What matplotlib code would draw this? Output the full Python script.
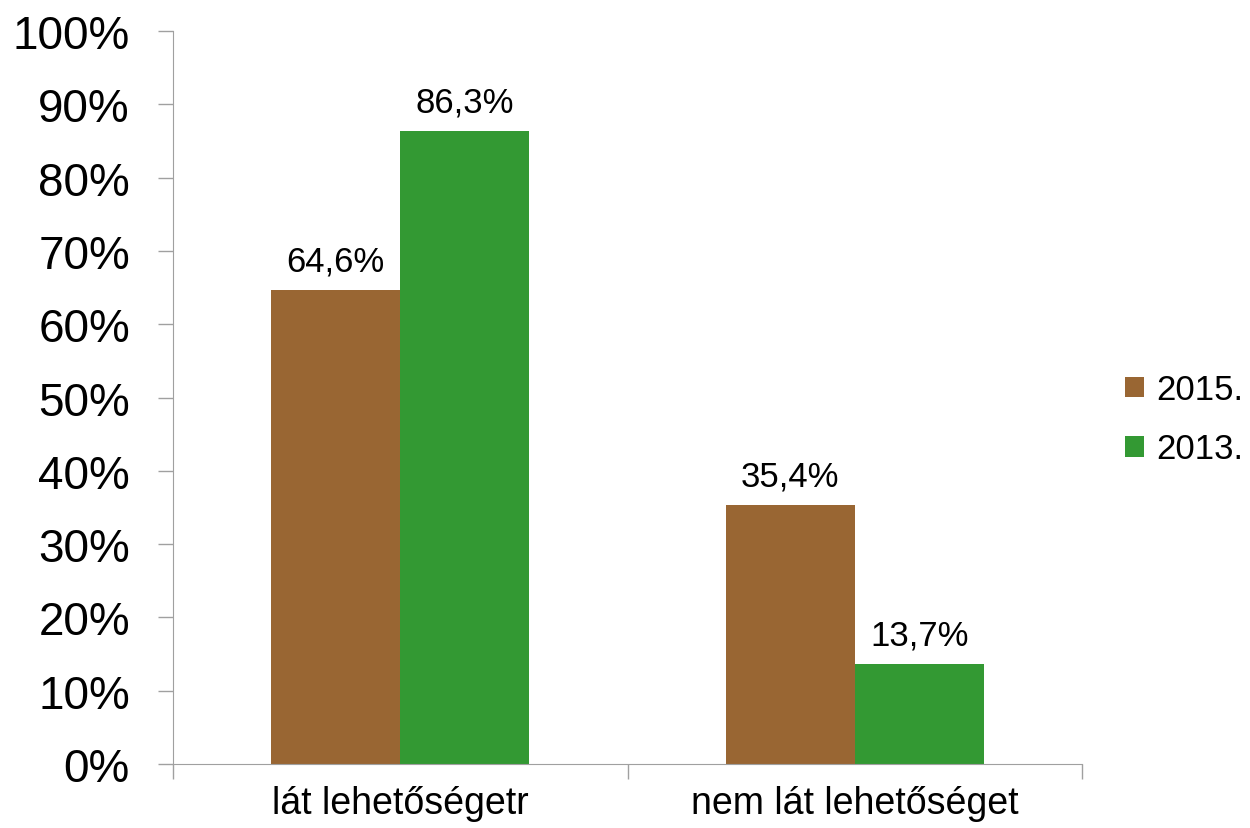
import matplotlib.pyplot as plt
import numpy as np

plt.rcParams['font.family'] = ['Liberation Sans', 'DejaVu Sans']

categories = ['lát lehetőségetr', 'nem lát lehetőséget']
series_names = ['2015.', '2013.']
v2015 = [64.6, 35.4]
v2013 = [86.3, 13.7]
labels2015 = ['64,6%', '35,4%']
labels2013 = ['86,3%', '13,7%']
colors = ['#996633', '#339933']

fig = plt.figure(figsize=(12.5, 8.29), dpi=100)
ax = fig.add_axes([0.1384, 0.0772, 0.7272, 0.8842])

x = np.arange(len(categories))
w = 0.284
b1 = ax.bar(x - w / 2, v2015, w, color=colors[0], label=series_names[0])
b2 = ax.bar(x + w / 2, v2013, w, color=colors[1], label=series_names[1])

for bars, labs in [(b1, labels2015), (b2, labels2013)]:
    for rect, lab in zip(bars, labs):
        ax.annotate(lab, (rect.get_x() + rect.get_width() / 2, rect.get_height()),
                    xytext=(0, 9), textcoords='offset points',
                    ha='center', va='bottom', fontsize=25)

ax.set_xlim(-0.5, len(categories) - 0.5)
ax.set_ylim(0, 100)
ax.set_yticks(np.arange(0, 101, 10))
ax.set_yticklabels(['%d%%' % v for v in range(0, 101, 10)], fontsize=33)
ax.tick_params(axis='y', length=11, width=1, color='#a0a0a0', pad=20)

ax.set_xticks(np.arange(-0.5, len(categories), 1.0))
ax.set_xticklabels([])
ax.set_xticks(x, minor=True)
ax.set_xticklabels(categories, minor=True, fontsize=27)
ax.tick_params(axis='x', which='major', length=11, width=1, color='#a0a0a0')
ax.tick_params(axis='x', which='minor', length=0, pad=15)

for s in ['top', 'right']:
    ax.spines[s].set_visible(False)
for s in ['left', 'bottom']:
    ax.spines[s].set_color('#a0a0a0')

fig.legend(handles=[b1, b2], labels=series_names, loc='center left',
           bbox_to_anchor=(0.9, 0.493), frameon=False, fontsize=25,
           handlelength=0.55, handleheight=0.55, handletextpad=0.35,
           labelspacing=0.75, borderpad=0, borderaxespad=0)

fig.savefig('out.png', dpi=100)
